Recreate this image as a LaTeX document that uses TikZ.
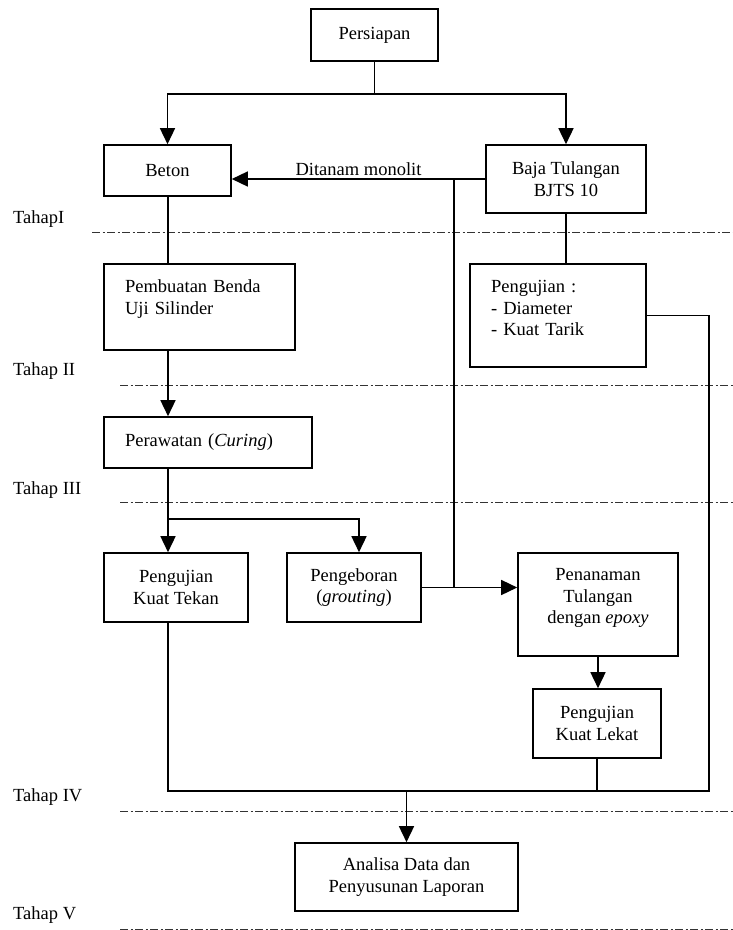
\documentclass[tikz,border=0pt]{standalone}
\usepackage{fontspec}
\setmainfont{Liberation Serif}
\usepackage{tikz}
\usetikzlibrary{arrows.meta,calc,positioning}
\definecolor{Ink}{HTML}{000000}
\definecolor{Phase}{HTML}{333333}
\tikzset{
  box/.style={draw=Ink,line width=1.6pt,align=center,inner sep=0pt,
              font=\fontsize{18.5}{21.5}\selectfont},
  kiri/.style={align=left,inner xsep=21pt},
  conn/.style={line width=1.5pt,color=Ink},
  arr/.style={conn,-{Triangle[length=16pt,width=15pt]}},
  phaseline/.style={line width=1pt,color=Phase,
                    dash pattern=on 8pt off 2.5pt on 2pt off 2.5pt},
  phasetext/.style={anchor=west,inner sep=0pt,font=\fontsize{18.5}{21.5}\selectfont}
}
\newcommand{\kotak}[6][]{%
  \node[box,minimum width=#3pt,minimum height=#4pt,#1] (#2) at (#5) {#6};}
\newcommand{\tahap}[5]{%
  \node[phasetext] (#1) at (13,#3) {#2};
  \draw[phaseline] (#5,#4) -- (733,#4);}

\begin{document}
\begin{tikzpicture}[x=1pt,y=-1pt]
  \useasboundingbox (0,0) rectangle (733,930);
  % tahapan
  \tahap{t1}{TahapI}{219}{232}{92}
  \tahap{t2}{Tahap II}{371}{385}{120}
  \tahap{t3}{Tahap III}{490}{502}{120}
  \tahap{t4}{Tahap IV}{797}{811}{120}
  \tahap{t5}{Tahap V}{915}{929}{120}

  % kotak
  \kotak{prep}{127}{52}{374.5,35}{Persiapan}
  \kotak{beton}{127}{51}{167.5,170.5}{Beton}
  \kotak{baja}{160}{68}{566,179}{Baja Tulangan\\BJTS 10}
  \kotak[kiri,text width=149pt]{buat}{191}{86}{199.5,307}{Pembuatan Benda\\Uji Silinder\\[-2pt]\mbox{}}
  \kotak[kiri,text width=134pt]{uji}{176}{103}{558,315.5}{Pengujian :\\- Diameter\\- Kuat Tarik\\[-6.5pt]\mbox{}}
  \kotak[kiri,text width=166pt]{rawat}{208}{51}{208,442.5}{Perawatan (\textit{Curing})}
  \kotak{tekan}{144}{69}{176,587.5}{Pengujian\\Kuat Tekan}
  \kotak{bor}{134}{69}{354,587.5}{Pengeboran\\(\textit{grouting})}
  \kotak{tanam}{160}{103}{598,604.5}{Penanaman\\Tulangan\\dengan \textit{epoxy}\\[-4.5pt]\mbox{}}
  \kotak{lekat}{128}{69}{597,723.5}{Pengujian\\Kuat Lekat}
  \kotak{analisa}{223}{68}{406.5,877}{Analisa Data dan\\Penyusunan Laporan}

  % titik bantu
  \coordinate (s1) at (374.5,94);
  \coordinate (m1) at (454,179);
  \coordinate (m2) at (454,587);
  \coordinate (c1) at (168,519);
  \coordinate (c2) at (359,519);
  \coordinate (b1) at (168,791);
  \coordinate (b2) at (709,791);

  % panah
  \draw[conn] (prep) -- (s1);
  \draw[arr] (s1) -| (beton);
  \draw[arr] (s1) -| (baja);
  \draw[arr] (baja.west) -- (beton.east |- baja.west)
    node[midway,above,inner sep=3pt,font=\fontsize{18.5}{21.5}\selectfont] (lbl) {Ditanam monolit};
  \draw[conn] (m1) -- (m2);
  \draw[conn] (beton.south -| c1) -- (buat.north -| c1);
  \draw[arr] (buat.south -| c1) -- (rawat.north -| c1);
  \draw[conn] (baja.south) -- (uji.north -| baja.south);
  \draw[arr] (rawat.south -| c1) -- (tekan.north -| c1);
  \draw[arr] (c1) -- (c2) -- (bor.north -| c2);
  \draw[arr] (bor.east) -- (tanam.west |- bor.east);
  \draw[arr] (tanam.south) -- (tanam.south |- lekat.north);
  \draw[conn] (tekan.south -| b1) -- (b1) -- (b2) |- (uji.east);
  \draw[conn] (lekat.south) -- (lekat.south |- b1);
  \draw[arr] (analisa.north |- b1) -- (analisa.north);
\end{tikzpicture}
\end{document}
